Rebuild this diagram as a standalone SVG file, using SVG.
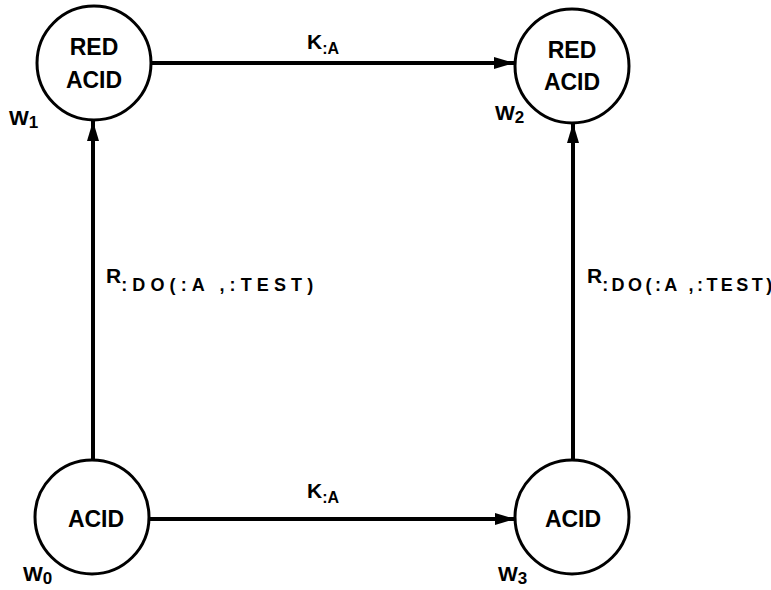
<svg xmlns="http://www.w3.org/2000/svg" width="771" height="590" viewBox="0 0 771 590">
<style>
.node{fill:#fff;stroke:#000;stroke-width:3}
.edge{stroke:#000;stroke-width:4;fill:none}
.t{font-family:"Liberation Sans",Arial,sans-serif;font-weight:bold;fill:#000}
.in{font-size:23px;text-anchor:middle}
.w{font-size:21px}
.ws{font-size:17px}
.k{font-size:21px}
.ks{font-size:16px}
.lab{font-size:21px}
.sub{font-size:18px}
</style>
<defs>
<marker id="ah" viewBox="0 0 20 12" refX="20" refY="6" markerWidth="20" markerHeight="12" markerUnits="userSpaceOnUse" orient="auto">
<path d="M0,0 L20,6 L0,12 Z" fill="#000"/>
</marker>
</defs>
<rect width="771" height="590" fill="#fff"/>
<g id="connectors">
<line class="edge" x1="151" y1="63" x2="514" y2="63" marker-end="url(#ah)"/>
<line class="edge" x1="149" y1="519" x2="515" y2="519" marker-end="url(#ah)"/>
<line class="edge" x1="93" y1="460" x2="93" y2="121" marker-end="url(#ah)"/>
<line class="edge" x1="573" y1="460" x2="573" y2="123" marker-end="url(#ah)"/>
<text class="t k" x="307" y="49">K<tspan class="ks" dy="5">:A</tspan></text>
<text class="t k" x="307" y="498">K<tspan class="ks" dy="5">:A</tspan></text>
<text class="t lab" x="106" y="283">R<tspan class="sub" dy="8" textLength="192" lengthAdjust="spacing">:DO(:A ,:TEST)</tspan></text>
<text class="t lab" x="587" y="283">R<tspan class="sub" dy="8" textLength="170" lengthAdjust="spacing">:DO(:A ,:TEST)</tspan></text>
</g>
<g id="w1">
<circle class="node" cx="94" cy="63" r="57"/>
<text class="t in" x="94" y="55">RED</text>
<text class="t in" x="94" y="88">ACID</text>
<text class="t w" x="9" y="125">W<tspan class="ws" dy="3">1</tspan></text>
</g>
<g id="w2">
<circle class="node" cx="572" cy="66" r="57"/>
<text class="t in" x="572" y="58">RED</text>
<text class="t in" x="572" y="90">ACID</text>
<text class="t w" x="495" y="120">W<tspan class="ws" dy="3">2</tspan></text>
</g>
<g id="w0">
<circle class="node" cx="92" cy="517" r="57"/>
<text class="t in" x="96" y="527">ACID</text>
<text class="t w" x="23" y="581">W<tspan class="ws" dy="3">0</tspan></text>
</g>
<g id="w3">
<circle class="node" cx="572" cy="517" r="57"/>
<text class="t in" x="573" y="527">ACID</text>
<text class="t w" x="498" y="581">W<tspan class="ws" dy="3">3</tspan></text>
</g>
</svg>
